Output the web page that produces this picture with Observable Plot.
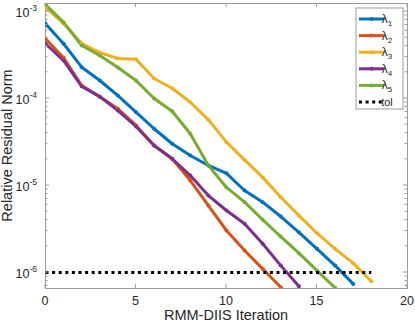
<!DOCTYPE html>
<html><head><meta charset="utf-8">
<script src="https://cdn.jsdelivr.net/npm/d3@7"></script>
<script src="https://cdn.jsdelivr.net/npm/@observablehq/plot@0.6"></script>
<style>
body{margin:0;background:#fff;}
#chart{width:415px;height:324px;}
</style>
</head><body><div id="chart"></div>
<script>
const iterations = [0,1,2,3,4,5,6,7,8,9,10,11,12,13,14,15,16,17,18];
const seriesNames = ["λ1","λ2","λ3","λ4","λ5"];
const seriesColors = ["#0072BD","#D95319","#EDB120","#7E2F8E","#77AC30"];
const lambda1 = [7.22e-4,4.26e-4,2.29e-4,1.61e-4,1.08e-4,6.96e-5,4.49e-5,3.02e-5,2.21e-5,1.70e-5,1.38e-5,8.77e-6,6.43e-6,4.4e-6,2.9e-6,1.87e-6,1.2e-6,7.4e-7];
const lambda2 = [4.85e-4,2.94e-4,1.41e-4,1.05e-4,7.62e-5,4.9e-5,2.88e-5,2.03e-5,1.14e-5,5.89e-6,3.04e-6,1.79e-6,1.1e-6,6.78e-7];
const lambda3 = [1.11e-3,7.3e-4,4.29e-4,3.37e-4,2.88e-4,2.83e-4,1.70e-4,1.31e-4,9.06e-5,5.69e-5,3.15e-5,1.97e-5,1.24e-5,7.34e-6,4.52e-6,2.83e-6,1.87e-6,1.28e-6,7.94e-7];
const lambda4 = [4.26e-4,2.73e-4,1.38e-4,1.05e-4,7.28e-5,4.77e-5,2.88e-5,2.03e-5,1.30e-5,7.67e-6,5.16e-6,3.63e-6,2.14e-6,1.2e-6,6.97e-7];
const lambda5 = [1.2e-3,7.5e-4,4.07e-4,3.12e-4,2.27e-4,1.61e-4,1.0e-4,7.14e-5,3.93e-5,1.70e-5,9.5e-6,6.43e-6,4.04e-6,2.59e-6,1.67e-6,1.05e-6,6.67e-7];
const tolValue = 1e-6;
const tolIterations = [0, 18];
const xTicks = [0,5,10,15,20];
const yMajorTicks = [1e-6,1e-5,1e-4,1e-3];
const yTickExponents = ["-6","-5","-4","-3"];
const xLabel = "RMM-DIIS Iteration";
const yLabel = "Relative Residual Norm";
const tolLabel = "tol";

const allSeries = [lambda1,lambda2,lambda3,lambda4,lambda5];
const rows = allSeries.flatMap((vals, k) => vals.map((v, j) => ({s: seriesNames[k], i: iterations[j], v})));
const tolRows = tolIterations.map(i => ({i, v: tolValue}));

const font = "'Liberation Sans', Arial, Helvetica, sans-serif";
const axisColor = "#9a9a9a";
const textColor = "#262626";

const chart = Plot.plot({
  width: 415, height: 324,
  marginLeft: 45, marginRight: 8, marginTop: 3, marginBottom: 36,
  style: {fontFamily: font, background: "white", overflow: "visible"},
  x: {domain: [0, 20], axis: null},
  y: {type: "log", domain: [6.55e-7, 1.236e-3], axis: null},
  color: {domain: seriesNames, range: seriesColors},
  marks: [
    Plot.frame({stroke: axisColor, strokeWidth: 1}),
    Plot.line(rows, {x: "i", y: "v", z: "s", stroke: "s", strokeWidth: 3, clip: true}),
    Plot.dot(rows, {x: "i", y: "v", fill: "s", r: 2, clip: true}),
    Plot.line(tolRows, {x: "i", y: "v", stroke: "black", strokeWidth: 3, strokeDasharray: "3,3.6", strokeLinecap: "butt"})
  ]
});
document.getElementById("chart").appendChild(chart);

const sx = chart.scale("x"), sy = chart.scale("y");
const svg = d3.select(chart);
const [xl, xr] = sx.range;
const [yb, yt] = sy.range;
const ax = svg.append("g").attr("stroke", axisColor).attr("stroke-width", 1);
xTicks.forEach(t => {
  const px = sx.apply(t);
  ax.append("line").attr("x1", px).attr("x2", px).attr("y1", yb).attr("y2", yb - 4);
  ax.append("line").attr("x1", px).attr("x2", px).attr("y1", yt).attr("y2", yt + 4);
});
const [dmin, dmax] = sy.domain;
for (let e = Math.floor(Math.log10(dmin)); e <= Math.ceil(Math.log10(dmax)); e++) {
  for (let m = 1; m <= 9; m++) {
    const v = m * Math.pow(10, e);
    if (v < dmin || v > dmax) continue;
    const py = sy.apply(v);
    const len = m === 1 ? 4 : 2.5;
    ax.append("line").attr("x1", xl).attr("x2", xl + len).attr("y1", py).attr("y2", py);
    ax.append("line").attr("x1", xr).attr("x2", xr - len).attr("y1", py).attr("y2", py);
  }
}
const tx = svg.append("g").attr("fill", textColor).attr("font-family", font);
xTicks.forEach(t => {
  tx.append("text").attr("x", sx.apply(t)).attr("y", yb + 17).attr("text-anchor", "middle")
    .attr("font-size", 12.5).text(String(t));
});
yMajorTicks.forEach((t, k) => {
  const t0 = tx.append("text").attr("x", xl - 8).attr("y", sy.apply(t) + 6).attr("text-anchor", "end").attr("font-size", 12.5);
  t0.append("tspan").text("10");
  t0.append("tspan").attr("dy", -6).attr("font-size", 8.5).text(yTickExponents[k]);
});
tx.append("text").attr("x", (xl + xr) / 2).attr("y", yb + 32).attr("text-anchor", "middle").attr("font-size", 14.5).text(xLabel);
tx.append("text").attr("transform", `translate(12,${(yb + yt) / 2}) rotate(-90)`).attr("text-anchor", "middle").attr("font-size", 14.5).text(yLabel);

const lg = svg.append("g").attr("font-family", font);
const lx = 356, ly = 8, lw = 47, lh = 101;
lg.append("rect").attr("x", lx).attr("y", ly).attr("width", lw).attr("height", lh).attr("fill", "white").attr("stroke", axisColor).attr("stroke-width", 1);
const rowH = 16.6;
seriesNames.forEach((name, k) => {
  const cy = ly + 11 + k * rowH;
  lg.append("line").attr("x1", lx + 3).attr("x2", lx + 28).attr("y1", cy).attr("y2", cy).attr("stroke", seriesColors[k]).attr("stroke-width", 3);
  lg.append("circle").attr("cx", lx + 15.5).attr("cy", cy).attr("r", 2).attr("fill", seriesColors[k]);
  const t = lg.append("text").attr("x", lx + 31).attr("y", cy + 4).attr("font-size", 12).attr("fill", textColor);
  t.append("tspan").text(name.slice(0, 1));
  t.append("tspan").attr("dy", 3).attr("font-size", 8).text(name.slice(1));
});
{
  const cy = ly + 11 + 5 * rowH;
  lg.append("line").attr("x1", lx + 3).attr("x2", lx + 26).attr("y1", cy).attr("y2", cy).attr("stroke", "black").attr("stroke-width", 3).attr("stroke-dasharray", "3,3.6");
  lg.append("text").attr("x", lx + 31).attr("y", cy + 4).attr("font-size", 11).attr("fill", textColor).text(tolLabel);
}
</script>
</body></html>
